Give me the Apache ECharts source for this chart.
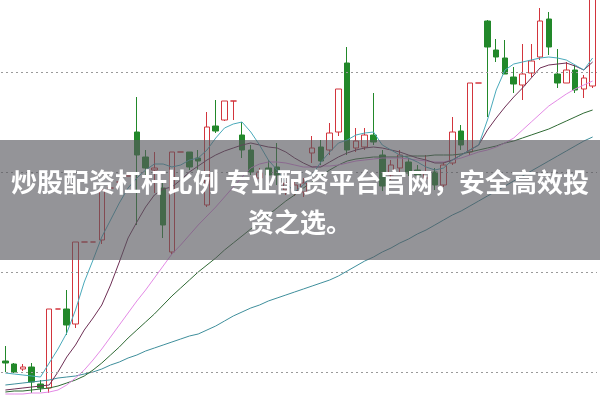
<!DOCTYPE html>
<html><head><meta charset="utf-8">
<script src="https://cdn.jsdelivr.net/npm/echarts@6/dist/echarts.min.js"></script>
<style>html,body{margin:0;padding:0;background:#fff}#c{width:600px;height:400px}</style>
</head><body><div id="c"></div>
<script>
// price values (arbitrary units read from pixel positions)
const opens  = [3.9,3.6,3.1,3.3,1.6,1.2,9.1,9.1,7.6,15.8, 15.8,16.0,21.2,21.8,22.4,26.8,24.3,23.0,21.2,14.8, 24.8,24.8,24.2,19.5,27.4,28.0,29.9,26.5,25.0,22.2, 23.2,23.3,21.0,20.8,20.8,24.7,25.3,25.0,26.8,33.7, 25.2,25.3,26.5,24.5,22.5,23.2,23.8,23.0,22.2,22.8, 21.5,23.7,26.9,24.8,31.7,37.9,35.0,34.2,32.3,31.5, 32.7,34.3,38.1,32.6,31.7,33.0,31.1,31.4];
const closes = [3.7,2.8,3.3,1.8,1.2,9.1,9.1,7.5,15.8,15.8, 15.8,21.0,21.2,21.8,22.4,24.5,23.2,23.2,17.5,24.8, 24.8,23.3,23.9,27.3,26.9,29.9,29.9,25.0,22.8,22.8, 22.5,22.5,21.7,21.5,21.7,25.2,23.9,26.7,31.1,25.0, 25.9,26.5,25.8,21.4,23.5,24.5,22.7,22.5,22.8,21.5, 23.5,26.8,25.5,31.7,31.7,35.3,34.3,32.6,31.6,32.6, 33.9,37.9,35.3,31.7,33.0,31.0,32.2,41.0];
const lows   = [2.8,2.7,2.9,0.7,0.8,0.7,9.1,6.5,7.2,15.8, 15.8,15.6,21.2,21.8,22.4,17.5,22.2,20.7,16.2,14.6, 24.8,23.0,22.8,19.3,26.7,27.9,28.0,24.2,22.5,21.8, 22.0,21.5,20.5,20.4,20.3,23.7,23.5,24.5,26.4,24.5, 24.8,25.0,25.5,20.9,22.0,22.8,22.4,22.0,21.8,21.0, 21.3,23.5,25.0,24.5,31.7,28.3,33.8,32.6,30.7,30.0, 32.3,34.0,34.5,31.2,31.7,30.7,30.2,31.2];
const highs  = [5.4,3.7,3.6,3.7,2.0,9.1,9.1,11.0,15.8,15.8, 15.8,21.2,21.2,21.8,22.4,30.3,25.0,24.8,22.0,24.8, 24.8,24.8,25.0,28.8,30.0,29.9,29.9,27.8,25.5,23.2, 24.0,25.7,22.2,22.0,22.2,26.4,26.0,27.7,31.1,35.3, 27.2,27.2,30.7,25.0,24.0,25.0,24.2,23.5,24.5,23.2, 23.8,28.3,27.5,31.7,31.7,38.0,36.1,36.0,33.3,35.6, 35.6,39.2,38.8,35.1,33.8,33.5,32.5,42.0];

const ma5  = [2.7,2.6,2.5,2.4,2.3,3.7,5.1,6.7,9.0,11.8, 14.0,16.3,18.0,19.7,21.2,22.2,23.0,23.6,23.6,23.3, 23.5,24.0,24.2,25.0,26.2,27.2,27.6,27.8,26.8,25.5, 24.0,23.0,21.7,20.8,21.5,22.5,23.8,24.8,25.7,26.0, 26.5,26.7,26.8,25.5,25.0,24.5,24.2,23.8,23.3,23.0, 23.2,24.0,24.5,25.0,25.5,28.0,31.0,33.0,33.6,33.8, 34.0,34.2,34.3,34.2,34.0,33.5,33.0,34.2];
const ma10 = [1.0,1.1,1.2,1.3,1.4,1.5,2.8,4.3,5.5,7.0, 8.2,9.5,11.5,13.8,16.2,17.8,19.3,20.5,21.1,21.3, 22.0,22.8,23.4,24.0,24.5,24.9,25.2,25.5,25.7,25.5, 25.3,25.2,24.8,24.2,23.7,23.3,23.3,23.8,24.3,24.7, 25.0,25.2,25.3,25.2,25.0,24.8,24.5,24.2,24.0,23.7, 23.7,24.0,24.5,25.0,25.5,27.0,28.2,29.3,30.3,31.2, 32.2,33.2,33.5,33.6,33.7,33.4,33.0,33.8];
const ma20 = [0.6,0.6,0.6,0.7,0.7,0.8,1.0,1.5,2.2,3.0, 4.0,5.1,6.3,7.5,8.7,9.9,11.0,12.2,13.4,14.6, 15.5,16.5,17.5,18.4,19.3,20.3,21.3,22.3,23.2,23.6, 23.8,23.8,23.7,23.5,23.3,23.3,23.4,23.4,23.5,23.7, 23.9,24.0,24.1,24.2,24.2,24.2,24.1,24.0,23.9,23.8, 23.8,24.0,24.2,24.5,24.8,25.0,25.3,25.7,26.2,27.0, 27.8,28.6,29.4,30.0,30.6,31.1,31.5,31.9];
const ma30 = [0.8,0.9,0.9,1.0,1.1,1.2,1.4,1.7,2.0,2.4, 3.0,3.7,4.5,5.3,6.2,7.0,7.8,8.6,9.5,10.4, 11.2,12.0,12.8,13.5,14.2,15.0,15.7,16.4,17.1,17.8, 18.5,19.2,19.9,20.5,21.2,21.8,22.4,23.0,23.5,23.9, 24.1,24.2,24.3,24.3,24.3,24.3,24.4,24.4,24.4,24.5, 24.5,24.5,24.6,24.8,25.0,25.2,25.4,25.7,25.9,26.2, 26.5,26.8,27.1,27.5,27.9,28.3,28.7,29.0];
const ma60 = [1.5,1.6,1.7,1.8,1.9,2.0,2.2,2.3,2.4,2.6, 2.8,3.1,3.5,3.8,4.2,4.5,4.9,5.2,5.5,5.8, 6.1,6.4,6.6,7.0,7.4,7.9,8.4,8.8,9.2,9.5, 9.9,10.2,10.5,10.8,11.1,11.4,11.7,12.0,12.4,12.9, 13.4,13.9,14.3,14.8,15.2,15.7,16.1,16.6,17.0,17.5, 18.0,18.5,18.9,19.4,19.9,20.4,20.9,21.4,21.9,22.4, 22.9,23.4,23.9,24.4,24.9,25.4,25.9,26.3];
const gridValues = [2.8, 12.8, 22.8, 32.8];
const categories = opens.map((_, i) => 'D' + (i + 1));
const bannerLines = ['炒股配资杠杆比例 专业配资平台官网，安全高效投', '资之选。'];

const candleData = opens.map((o, i) => [o, closes[i], lows[i], highs[i]]);
const mk = (name, data, color) => ({
  name, type: 'line', data, showSymbol: false, symbol: 'none', smooth: false,
  lineStyle: { width: 1, color }, itemStyle: { color }, z: 3, silent: true
});

const chart = echarts.init(document.getElementById('c'), null, { renderer: 'canvas' });
chart.setOption({
  animation: false,
  backgroundColor: '#ffffff',
  grid: { left: 1, right: 3, top: 0, bottom: 0 },
  xAxis: { type: 'category', data: categories, boundaryGap: true, show: false },
  yAxis: { type: 'value', min: 0, max: 40, show: false, splitLine: { show: false } },
  series: [
    {
      name: 'K', type: 'candlestick', data: candleData, barWidth: 6, clip: true, z: 2,
      itemStyle: { color: 'rgba(0,0,0,0)', color0: '#22882a', borderColor: '#d2353d', borderColor0: '#22882a', borderWidth: 1 },
      markLine: {
        silent: true, symbol: 'none', label: { show: false },
        lineStyle: { type: [2, 3], color: '#9a9a9a', width: 1 },
        data: gridValues.map(v => ({ yAxis: v }))
      }
    },
    mk('MA60', ma60, '#3f8f9c'),
    mk('MA30', ma30, '#2f6a34'),
    mk('MA20', ma20, '#e48ae6'),
    mk('MA10', ma10, '#6e2f55'),
    mk('MA5', ma5, '#4aaabb')
  ],
  graphic: [
    { type: 'rect', z: 100, shape: { x: 0, y: 140, width: 600, height: 120 }, style: { fill: 'rgba(88,88,94,0.64)' } },
    { type: 'text', z: 101, style: { text: bannerLines[0], x: 300, y: 182, fill: '#ffffff', fontSize: 26, fontWeight: 'bold', fontFamily: '"Noto Sans CJK SC", sans-serif', align: 'center', verticalAlign: 'middle' } },
    { type: 'text', z: 101, style: { text: bannerLines[1], x: 300, y: 222, fill: '#ffffff', fontSize: 26, fontWeight: 'bold', fontFamily: '"Noto Sans CJK SC", sans-serif', align: 'center', verticalAlign: 'middle' } }
  ]
});
</script>
</body></html>
